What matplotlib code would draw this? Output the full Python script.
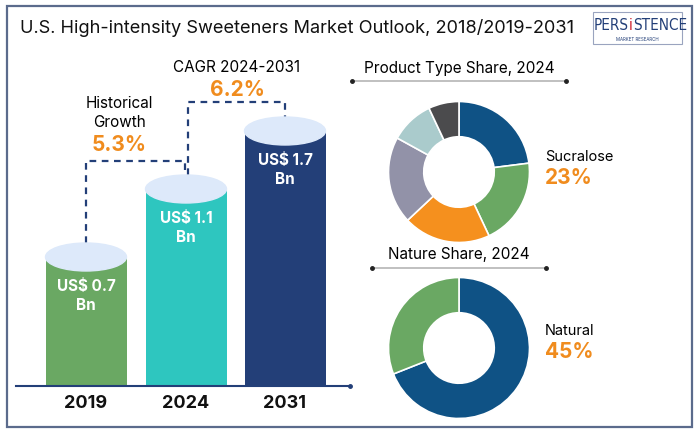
import matplotlib
matplotlib.use('Agg')
import matplotlib.pyplot as plt
from matplotlib.patches import Ellipse, Rectangle

plt.rcParams['font.family'] = ['Inter', 'DejaVu Sans']

# ---- data ----
years = ['2019', '2024', '2031']
bar_labels = ['US$ 0.7\nBn', 'US$ 1.1\nBn', 'US$ 1.7\nBn']
bar_heights = [129, 197, 255]          # drawn height of each cylinder (px above baseline)
bar_colors = ['#6aa863', '#2ec6bf', '#233f78']

cagr_labels = ['Historical\nGrowth', 'CAGR 2024-2031']
cagr_values = ['5.3%', '6.2%']

product_share = [23, 20, 20, 20, 10, 7]
product_colors = ['#0f5285', '#6aa863', '#f5901e', '#9292a8', '#aacbcc', '#4b4b4d']
nature_share = [69, 31]
nature_colors = ['#0f5285', '#6aa863']

ORANGE = '#f08c1e'
NAVY = '#233f78'
W, H = 700, 435

fig = plt.figure(figsize=(7, 4.35), dpi=100)
ax = fig.add_axes([0, 0, 1, 1])
ax.set_xlim(0, W)
ax.set_ylim(H, 0)   # image-like coordinates, y down
ax.axis('off')

# frame
ax.add_patch(Rectangle((7, 7), 685, 421, fill=False, ec='#5b6b8c', lw=1.6))

ax.text(20, 28, 'U.S. High-intensity Sweeteners Market Outlook, 2018/2019-2031',
        fontsize=13.1, va='center', ha='left', color='#111111')

# logo
ax.add_patch(Rectangle((593, 13), 89, 32, fill=False, ec='#9aa4bf', lw=0.8))
lkw = dict(fontsize=11, va='center', fontstretch='condensed', family='DejaVu Sans')
ax.text(628.5, 26, 'PERS', color=NAVY, ha='right', **lkw)
ax.text(631, 26, 'i', color='#d0202a', ha='center', **lkw)
ax.text(633.5, 26, 'STENCE', color=NAVY, ha='left', **lkw)
ax.text(637, 39.5, 'MARKET RESEARCH', fontsize=3.2, color=NAVY, ha='center', va='center')

# ---- cylinders ----
base = 387
xs = [86, 186, 285]
bw = 81
ax.bar(xs, [-h for h in bar_heights], bottom=base, width=bw, color=bar_colors, zorder=2)
for x, h in zip(xs, bar_heights):
    ax.add_patch(Ellipse((x, base - h), bw, 28, color='#dde9fa', zorder=3))
for x, h, lab in zip(xs, bar_heights, bar_labels):
    ax.text(x, base - h + 38, lab, ha='center', va='center', color='white',
            fontsize=11, fontweight='bold', linespacing=1.3, zorder=4)
for x, y in zip(xs, years):
    ax.text(x, 404, y, ha='center', va='center', fontsize=13, fontweight='bold', color='#111111')
ax.plot([16, 350], [base, base], color=NAVY, lw=1.5, zorder=5)
ax.plot([350], [base], 'o', color=NAVY, ms=2.5)

# dashed connectors
dkw = dict(color=NAVY, lw=1.6, ls=(0, (3, 2.5)), zorder=1)
ax.plot([86, 86, 185, 185], [base - bar_heights[0] - 14, 162, 162, base - bar_heights[1] - 14], **dkw)
ax.plot([188, 188, 285, 285], [base - bar_heights[1] - 14, 103, 103, base - bar_heights[2] - 14], **dkw)

ax.text(119, 113, cagr_labels[0], ha='center', va='center', fontsize=11, linespacing=1.3)
ax.text(119, 145, cagr_values[0], ha='center', va='center', fontsize=15, fontweight='bold', color=ORANGE)
ax.text(237, 67, cagr_labels[1], ha='center', va='center', fontsize=11)
ax.text(237, 90, cagr_values[1], ha='center', va='center', fontsize=15, fontweight='bold', color=ORANGE)

# ---- donuts ----
def donut(cx, cy, r, values, colors, title, ty, lx0, lx1, lab, pct, ly):
    a = fig.add_axes([(cx - r) / W, (H - cy - r) / H, 2 * r / W, 2 * r / H])
    a.pie(values, colors=colors, startangle=90, counterclock=False,
          wedgeprops=dict(width=0.5, edgecolor='white', linewidth=1.2))
    a.set_xlim(-1, 1)
    a.set_ylim(-1, 1)
    a.set_aspect('equal')
    a.axis('off')
    ax.text(cx, ty, title, ha='center', va='center', fontsize=11)
    ax.plot([lx0, lx1], [ty + 14, ty + 14], color='#bbbbbb', lw=1.3)
    ax.plot([lx0, lx1], [ty + 14, ty + 14], 'o', color='#222222', ms=2.5)
    ax.text(545, ly, lab, ha='left', va='center', fontsize=10.5)
    ax.text(545, ly + 21, pct, ha='left', va='center', fontsize=15, fontweight='bold', color=ORANGE)

donut(459, 173, 70.5, product_share, product_colors, 'Product Type Share, 2024', 68, 352, 566,
      'Sucralose', '23%', 157)
donut(459, 349, 70.5, nature_share, nature_colors, 'Nature Share, 2024', 255, 372, 546,
      'Natural', '45%', 331)

fig.savefig('out.png', dpi=100)
